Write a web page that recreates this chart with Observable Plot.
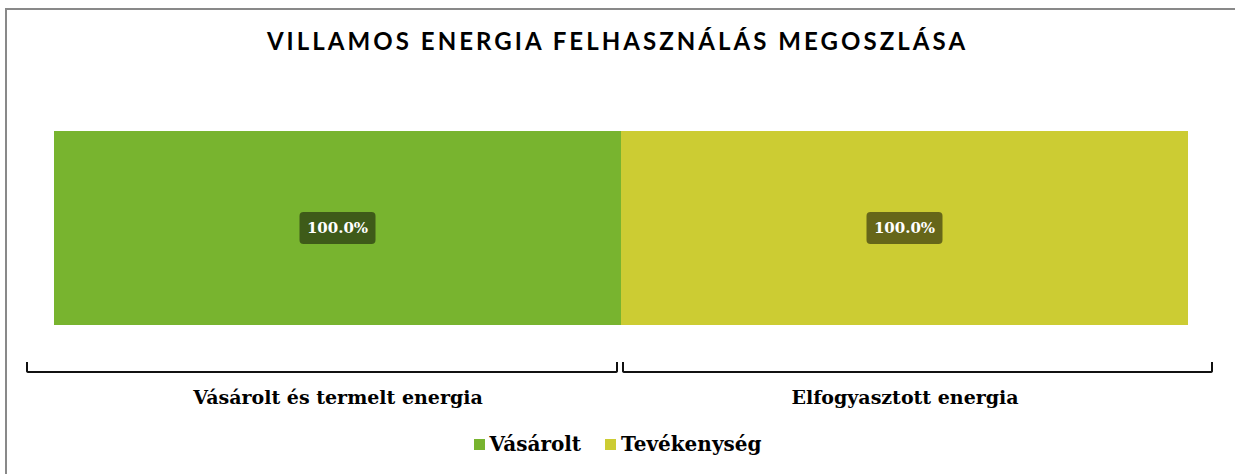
<!DOCTYPE html>
<html>
<head>
<meta charset="utf-8">
<script src="https://cdn.jsdelivr.net/npm/d3@7"></script>
<script src="https://cdn.jsdelivr.net/npm/@observablehq/plot@0.6"></script>
<style>
  html, body { margin: 0; padding: 0; background: #fff; width: 1235px; height: 474px; overflow: hidden; }
  #frame { position: absolute; left: 5px; top: 8px; width: 1300px; height: 520px; border: 2px solid #898989; box-sizing: border-box; }
  #title { position: absolute; left: 0; top: 26px; width: 1235px; text-align: center; font-family: Lato, "DejaVu Sans", sans-serif; font-weight: 700; font-size: 24px; letter-spacing: 3.05px; color: #000; }
  #chart { position: absolute; left: 0; top: 100px; }
  #legend { position: absolute; left: 0; top: 424px; width: 1235px; height: 40px; display: flex; justify-content: center; align-items: center; font-family: "DejaVu Serif", serif; font-weight: bold; font-size: 20px; color: #000; }
  .item { display: flex; align-items: center; margin: 0 12px; }
  .sw { width: 11px; height: 11px; margin-right: 5px; }
</style>
</head>
<body>
<div id="frame"></div>
<div id="title">VILLAMOS ENERGIA FELHASZNÁLÁS MEGOSZLÁSA</div>
<div id="chart"></div>
<div id="legend"></div>
<script>
const categories = ["Vásárolt és termelt energia", "Elfogyasztott energia"];
const series = ["Vásárolt", "Tevékenység"];
const values = [1.0, 1.0];
const seriesColors = ["#78b42f", "#cccc33"];
const labelColors = ["#3e5b19", "#666619"];

const data = categories.map((c, i) => ({category: c, series: series[i], value: values[i]}));

function dataLabels(index, scales, vals, dims) {
  const g = d3.create("svg:g");
  const x = scales.x, y = scales.y;
  const bw = x.bandwidth ? x.bandwidth() : (x(categories[1]) - x(categories[0]));
  data.forEach((d, i) => {
    const cx = x(d.category) + bw / 2;
    const cy = (y(0) + y(d.value)) / 2;
    g.append("rect")
      .attr("x", cx - 38).attr("y", cy - 16)
      .attr("width", 76).attr("height", 32)
      .attr("rx", 4).attr("fill", labelColors[i]);
    g.append("text")
      .attr("x", cx).attr("y", cy)
      .attr("text-anchor", "middle").attr("dy", "0.36em")
      .attr("fill", "#fff")
      .attr("font-family", "'DejaVu Serif', serif")
      .attr("font-weight", "bold")
      .attr("font-size", 15)
      .text(d3.format(".1%")(d.value));
  });
  return g.node();
}

function braces(index, scales, vals, dims) {
  const g = d3.create("svg:g");
  const x = scales.x;
  const bw = x.bandwidth ? x.bandwidth() : (x(categories[1]) - x(categories[0]));
  const yb = dims.height - dims.marginBottom + 47;
  categories.forEach((c, i) => {
    const left = x(c) - (i === 0 ? 27 : -2);
    const right = x(c) + bw + (i === categories.length - 1 ? 24 : -4);
    g.append("path")
      .attr("d", `M${left},${yb - 10} L${left},${yb - 1} Q${left},${yb} ${left + 2},${yb} L${right - 2},${yb} Q${right},${yb} ${right},${yb - 1} L${right},${yb - 10}`)
      .attr("fill", "none").attr("stroke", "#111").attr("stroke-width", 2);
  });
  return g.node();
}

const plot = Plot.plot({
  width: 1235,
  height: 325,
  marginTop: 31,
  marginBottom: 100,
  marginLeft: 54,
  marginRight: 47,
  style: {fontFamily: "'DejaVu Serif', serif", background: "transparent", color: "#000"},
  x: {domain: categories, padding: 0, axis: null, label: null},
  y: {domain: [0, 1], axis: null},
  color: {domain: series, range: seriesColors},
  marks: [
    Plot.barY(data, {x: "category", y: "value", fill: "series"}),
    dataLabels,
    braces,
    Plot.axisX({tickSize: 0, tickPadding: 65, fontSize: 19, fontWeight: "bold", fill: "#000", label: null})
  ]
});
document.getElementById("chart").appendChild(plot);

const legend = document.getElementById("legend");
series.forEach((s, i) => {
  const it = document.createElement("div");
  it.className = "item";
  const sw = document.createElement("div");
  sw.className = "sw";
  sw.style.background = seriesColors[i];
  const t = document.createElement("span");
  t.textContent = s;
  it.appendChild(sw); it.appendChild(t);
  legend.appendChild(it);
});
</script>
</body>
</html>
